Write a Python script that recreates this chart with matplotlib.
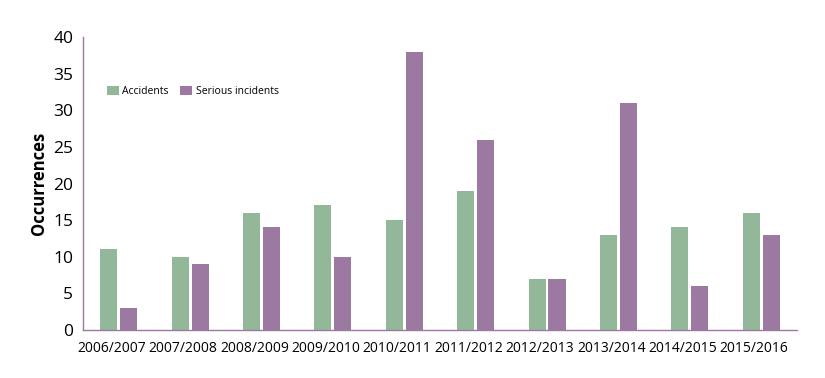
import numpy as np
import matplotlib.pyplot as plt

plt.rcParams['font.family'] = ['Open Sans', 'DejaVu Sans']

years = ['2006/2007', '2007/2008', '2008/2009', '2009/2010', '2010/2011',
         '2011/2012', '2012/2013', '2013/2014', '2014/2015', '2015/2016']
accidents = [11, 10, 16, 17, 15, 19, 7, 13, 14, 16]
serious = [3, 9, 14, 10, 38, 26, 7, 31, 6, 13]

green = '#93b899'
purple = '#9b79a0'

fig = plt.figure(figsize=(8.25, 3.78), dpi=100)
ax = fig.add_axes([0.1006, 0.127, 0.8654, 0.775])

x = np.arange(len(years))
w = 0.24
ax.bar(x - 0.14, accidents, w, color=green, label='Accidents')
ax.bar(x + 0.14, serious, w, color=purple, label='Serious incidents')

ax.set_xlim(-0.5, len(years) - 0.5)
ax.set_ylim(0, 40)
ax.set_yticks(range(0, 41, 5))
ax.set_xticks(x - 0.1)
ax.set_xticklabels(years, fontsize=10)
ax.tick_params(axis='y', labelsize=12.5, length=0, pad=7)
ax.tick_params(axis='x', length=0, pad=8)
ax.set_ylabel('Occurrences', fontsize=12, fontweight='bold', labelpad=4)

for s in ['top', 'right']:
    ax.spines[s].set_visible(False)
for s in ['left', 'bottom']:
    ax.spines[s].set_color(purple)
    ax.spines[s].set_linewidth(1)

ax.legend(loc='upper left', bbox_to_anchor=(0.02, 0.865), ncol=2, frameon=False,
          fontsize=7.5, handlelength=1.15, handleheight=1.0, columnspacing=1.1,
          handletextpad=0.35)

fig.savefig('out.png', dpi=100)
